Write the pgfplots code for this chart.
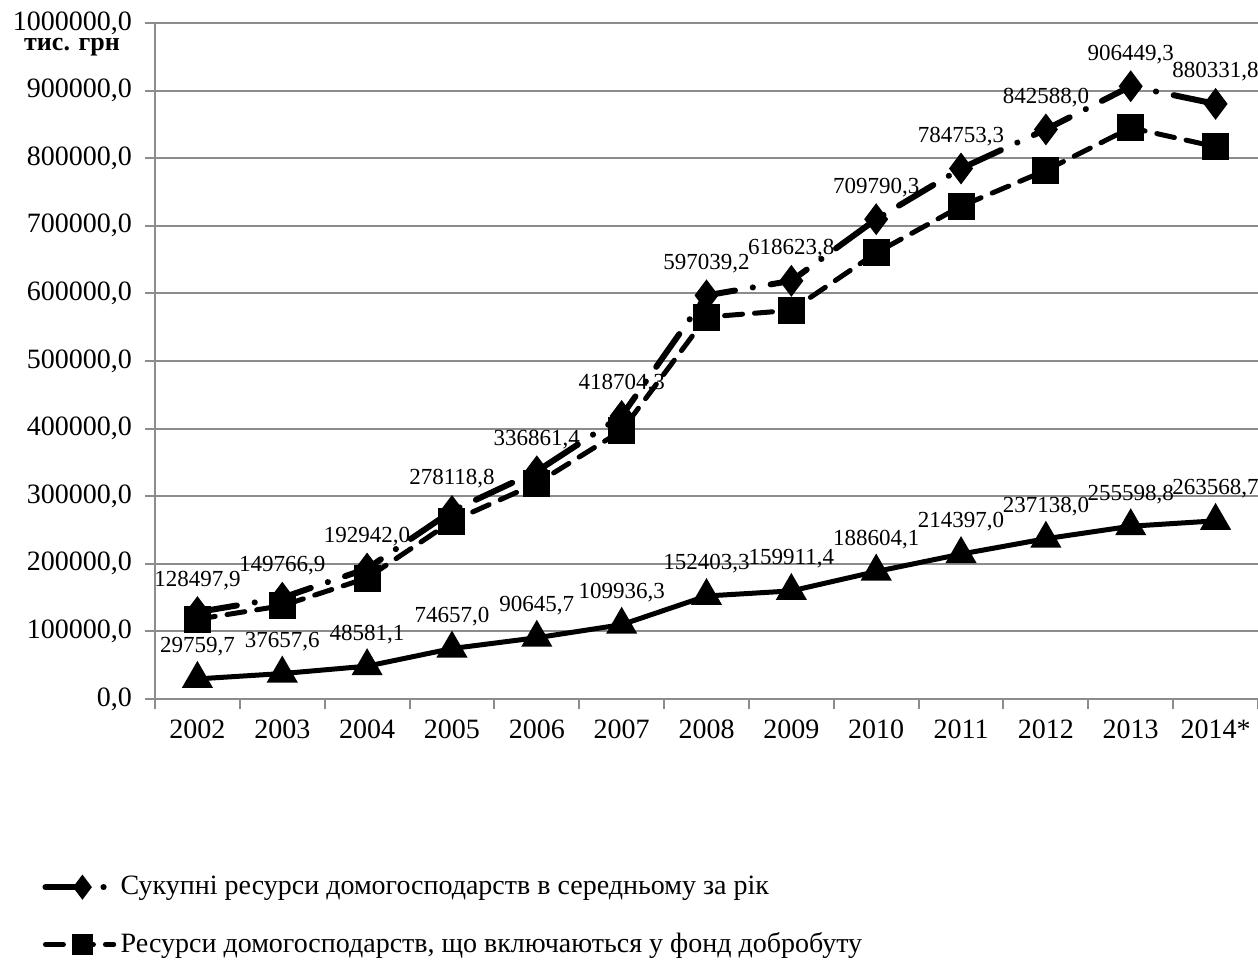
\documentclass[border=0pt]{standalone}
\usepackage{fontspec}
\setmainfont{Liberation Serif}
\usepackage{pgfplots}
\usepackage{pgfplotstable}
\pgfplotsset{compat=1.18}

% year index, total resources, welfare-fund resources, third series
\pgfplotstableread{
x  y1        lab1      y2      y3        lab3
0  128497.9  128497,9  118000  29759.7   29759,7
1  149766.9  149766,9  138000  37657.6   37657,6
2  192942.0  192942,0  179000  48581.1   48581,1
3  278118.8  278118,8  263000  74657.0   74657,0
4  336861.4  336861,4  319000  90645.7   90645,7
5  418704.3  418704,3  397000  109936.3  109936,3
6  597039.2  597039,2  565000  152403.3  152403,3
7  618623.8  618623,8  575000  159911.4  159911,4
8  709790.3  709790,3  660000  188604.1  188604,1
9  784753.3  784753,3  729000  214397.0  214397,0
10 842588.0  842588,0  782000  237138.0  237138,0
11 906449.3  906449,3  845000  255598.8  255598,8
12 880331.8  880331,8  817000  263568.7  263568,7
}\data

\begin{document}
\begin{tikzpicture}
\useasboundingbox (-77.5pt,-130.5pt) rectangle (551.5pt,349.5pt);
\begin{axis}[
    name=ax,
    at={(0,0)}, anchor=south west,
    width=551.5pt, height=338pt, scale only axis,
    xmin=-0.5, xmax=12.5,
    ymin=0, ymax=1000000,
    axis lines*=left,
    axis line style={draw=gray!90, line width=1pt},
    tick align=outside,
    major tick length=5pt,
    tick style={draw=gray!90, line width=1pt},
    xtick={-0.5,0.5,...,12.5},
    xticklabels={},
    extra x ticks={0,1,...,12},
    extra x tick labels={2002,2003,2004,2005,2006,2007,2008,2009,2010,2011,2012,2013,2014*},
    extra x tick style={major tick length=0pt, grid=none,
        xticklabel style={yshift=-7pt}},
    ytick={0,100000,...,1000000},
    scaled y ticks=false,
    yticklabel={\pgfmathprintnumber[fixed,fixed zerofill,precision=1,use comma,1000 sep={},assume math mode=true]{\tick}},
    yticklabel style={xshift=-3pt},
    ticklabel style={font=\fontsize{14}{16}\selectfont, text=black},
    ymajorgrids=true,
    grid style={draw=gray!90, line width=1pt},
    legend style={at={(axis description cs:-0.1024,-0.250)}, anchor=north west,
        draw=none, fill=none, font=\fontsize{14}{16}\selectfont,
        row sep=13.5pt, cells={anchor=west}, inner xsep=0pt},
    legend image code/.code={
        \draw[mark repeat=2,mark phase=2,mark size=3.8pt] plot coordinates {(0cm,0cm)(0.65cm,0cm)(1.2cm,0cm)};},
    nodes near coords style={font=\fontsize{11.5}{13}\selectfont, anchor=center, yshift=16pt},
]

\addplot[black, line width=3pt, line cap=round,
    dash pattern=on 20pt off 9pt on 0.1pt off 9pt,
    mark=diamond*, mark size=5.5pt, mark options={solid},
    point meta=explicit symbolic, nodes near coords]
    table[x=x, y=y1, meta=lab1] {\data};
\addlegendentry{Сукупні ресурси домогосподарств в середньому за рік}

\addplot[black, line width=2.5pt, line cap=round,
    dash pattern=on 9pt off 6pt,
    mark=square*, mark size=5.5pt, mark options={solid}]
    table[x=x, y=y2] {\data};
\addlegendentry{Ресурси домогосподарств, що включаються у фонд добробуту}

\addplot[black, line width=2.5pt,
    mark=triangle*, mark size=6.5pt,
    point meta=explicit symbolic, nodes near coords, forget plot]
    table[x=x, y=y3, meta=lab3] {\data};
\end{axis}
\node[anchor=east, font=\bfseries\fontsize{13}{15}\selectfont]
    at ([xshift=-14pt, yshift=-12pt]ax.north west) {тис. грн};
\end{tikzpicture}
\end{document}
